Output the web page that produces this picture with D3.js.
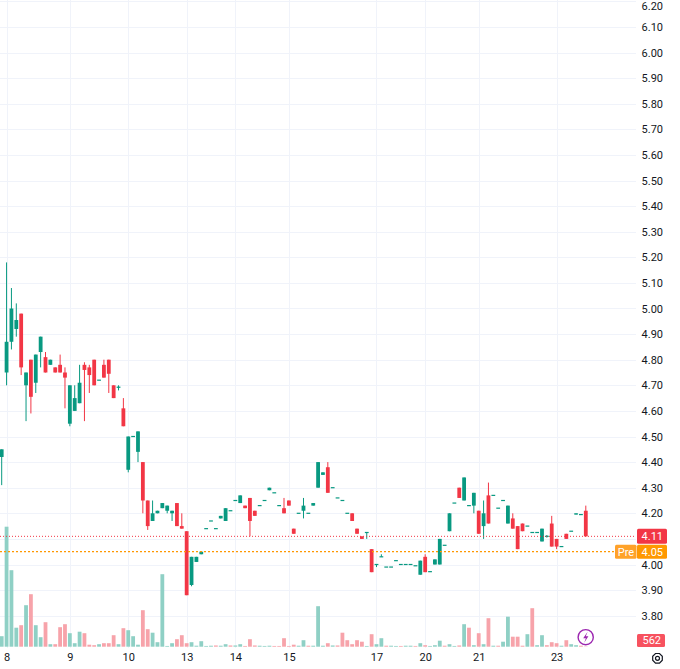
<!DOCTYPE html>
<html><head><meta charset="utf-8">
<script src="https://cdn.jsdelivr.net/npm/d3@7"></script>
<style>html,body{margin:0;padding:0;background:#fff;} svg{display:block;font-family:Roboto,"Liberation Sans",sans-serif;}</style>
</head><body><svg id="c" width="680" height="669"></svg>
<script>
// ---- data ----
const open = [
4.42,4.75,4.87,4.92,4.98,4.70,4.80,4.71,4.83,4.81,
4.78,4.77,4.78,4.75,4.55,4.60,4.63,4.78,4.77,4.80,
4.72,4.78,4.80,4.70,4.69,4.61,4.37,4.50,4.44,4.40,
4.25,4.17,4.20,4.22,4.21,4.20,4.24,4.15,4.13,3.92,
4.01,4.04,4.14,4.17,4.14,4.18,4.17,4.21,4.25,4.24,
4.23,4.26,4.21,4.23,4.25,4.29,4.28,4.23,4.22,4.25,
4.14,4.20,4.21,4.20,4.23,4.30,4.35,4.38,4.30,4.26,
4.25,4.20,4.20,4.14,4.11,4.125,4.06,4.00,4.03,3.99,
3.99,4.015,4.00,4.00,4.00,3.995,3.96,4.03,3.972,4.00,
4.00,4.075,4.13,4.24,4.30,4.25,4.23,4.23,4.21,4.15,
4.27,4.27,4.22,4.25,4.16,4.18,4.15,4.16,4.15,4.125,
4.125,4.09,4.11,4.16,4.10,4.07,4.12,4.13,4.195,4.195,
4.21];
const close = [
4.45,4.87,5.00,4.955,4.77,4.75,4.655,4.82,4.89,4.75,
4.80,4.75,4.75,4.73,4.70,4.65,4.71,4.76,4.74,4.70,
4.72,4.73,4.745,4.65,4.695,4.54,4.50,4.50,4.52,4.25,
4.15,4.20,4.21,4.24,4.23,4.21,4.15,4.14,3.88,4.03,
4.03,4.05,4.14,4.17,4.14,4.19,4.22,4.21,4.25,4.27,
4.22,4.17,4.19,4.23,4.25,4.30,4.28,4.23,4.20,4.23,
4.12,4.20,4.23,4.20,4.24,4.40,4.36,4.28,4.30,4.26,
4.25,4.20,4.17,4.12,4.10,4.125,3.97,4.00,4.03,3.99,
3.99,4.015,4.00,4.00,4.00,3.995,4.015,3.97,3.972,4.02,
4.10,4.075,4.20,4.24,4.26,4.34,4.23,4.28,4.12,4.20,
4.16,4.27,4.22,4.25,4.23,4.14,4.06,4.13,4.15,4.125,
4.125,4.14,4.11,4.07,4.07,4.07,4.10,4.13,4.20,4.195,
4.11];
const high = [
4.45,5.18,5.08,5.02,4.98,4.75,4.80,4.82,4.89,4.83,
4.80,4.77,4.82,4.77,4.70,4.70,4.78,4.79,4.78,4.80,
4.72,4.80,4.80,4.70,4.70,4.65,4.50,4.50,4.52,4.40,
4.25,4.25,4.21,4.24,4.23,4.21,4.24,4.20,4.13,4.03,
4.03,4.05,4.14,4.17,4.14,4.19,4.22,4.21,4.25,4.27,
4.23,4.26,4.21,4.23,4.25,4.30,4.28,4.23,4.26,4.25,
4.14,4.20,4.26,4.20,4.24,4.40,4.36,4.40,4.30,4.26,
4.25,4.20,4.20,4.14,4.11,4.125,4.06,4.00,4.04,3.99,
3.99,4.015,4.00,4.00,4.00,3.995,4.015,4.04,3.972,4.02,
4.10,4.075,4.20,4.24,4.30,4.34,4.23,4.28,4.21,4.25,
4.32,4.27,4.22,4.25,4.23,4.20,4.15,4.16,4.15,4.125,
4.125,4.14,4.115,4.19,4.10,4.07,4.12,4.13,4.20,4.195,
4.23];
const low = [
4.31,4.70,4.84,4.89,4.74,4.56,4.59,4.67,4.77,4.75,
4.78,4.75,4.75,4.61,4.54,4.60,4.63,4.56,4.67,4.70,
4.72,4.73,4.67,4.65,4.68,4.54,4.36,4.50,4.40,4.20,
4.135,4.17,4.20,4.22,4.20,4.17,4.15,4.14,3.88,3.915,
4.01,4.04,4.14,4.17,4.14,4.18,4.17,4.21,4.25,4.24,
4.22,4.11,4.19,4.23,4.25,4.29,4.28,4.23,4.20,4.23,
4.12,4.20,4.18,4.20,4.23,4.30,4.35,4.28,4.30,4.26,
4.25,4.20,4.17,4.12,4.10,4.10,3.97,3.99,4.03,3.99,
3.99,4.015,4.00,4.00,4.00,3.995,3.96,3.97,3.972,4.00,
4.00,4.075,4.13,4.24,4.26,4.25,4.23,4.20,4.12,4.10,
4.16,4.27,4.22,4.25,4.16,4.14,4.06,4.13,4.15,4.125,
4.125,4.09,4.105,4.07,4.06,4.07,4.10,4.13,4.195,4.195,
4.11];
// volume in thousands of shares
const volume = [
21,240,153,38,43,83,105,43,19,49,
5,5,39,45,27,7,30,27,4,3,
5,7,7,23,5,37,33,21,4,73,
35,28,9,145,1.5,7,15,23,7,9,
2,11,1.5,2,2.5,2,5,2.5,2.5,5,
1.5,15,2.5,2,1.5,2,1.5,1.5,17,1.5,
4,2,13,2,2,81,2,7,2.5,2.5,
28,13,5,13,10,1.5,25,5,17,2,
2,1.5,1.5,2,2,1.5,7,3,1.5,3,
12,2,5,1.5,2.5,45,38,3,27,5,
57,2,2,10,60,20,20,2,25,77,
3,23,3,9,7,2,13,5,3,2,
0.562];
const dayTickIndex = [1,14,26,38,48,59,77,87,98,114];
const dayTickLabels = ["8","9","10","13","14","15","17","20","21","23"];
const priceTicks = [3.8,3.9,4.0,4.1,4.2,4.3,4.4,4.5,4.6,4.7,4.8,4.9,5.0,5.1,5.2,5.3,5.4,5.5,5.6,5.7,5.8,5.9,6.0,6.1,6.2];
const lastPrice = 4.11, prePrice = 4.05, lastVolume = 562;

// ---- drawing ----
const UP="#089981", DN="#F23645", VUP="#8fd0c5", VDN="#f7a3aa", GRID="#f0f3fa", TXT="#131722";
const svg=d3.select("#c");
const N=open.length;
const x=d3.scalePoint().domain(d3.range(N)).range([1.7,585.8]);
const y=d3.scaleLinear().domain([4.0,6.2]).range([564.5,1.3]);
const yv=d3.scaleLinear().domain([0,240]).range([646.7,526.7]);
const paneRight=636, timeTop=648;
const bw=3.8;

// grid
const g=svg.append("g");
g.selectAll("line.h").data(priceTicks).join("line")
 .attr("x1",0).attr("x2",paneRight).attr("y1",d=>Math.round(y(d))+0.5).attr("y2",d=>Math.round(y(d))+0.5)
 .attr("stroke",GRID).attr("stroke-width",1);
g.selectAll("line.v").data(dayTickIndex).join("line")
 .attr("x1",d=>Math.round(x(d))+0.5).attr("x2",d=>Math.round(x(d))+0.5).attr("y1",0).attr("y2",timeTop)
 .attr("stroke",GRID).attr("stroke-width",1);

// volume
const idx=d3.range(N);
const volUp=i=> close[i]>open[i] || (close[i]===open[i] && (i===0 || close[i]>=close[i-1]));
svg.append("g").selectAll("rect").data(idx).join("rect")
 .attr("x",i=>x(i)-bw/2).attr("width",bw)
 .attr("y",i=>yv(volume[i])).attr("height",i=>yv(0)-yv(volume[i]))
 .attr("fill",i=>volUp(i)?VUP:VDN);

// candles
const cg=svg.append("g");
const isUp=i=>close[i]>=open[i];
cg.selectAll("line").data(idx).join("line")
 .attr("x1",i=>x(i)).attr("x2",i=>x(i)).attr("y1",i=>y(high[i])).attr("y2",i=>y(low[i]))
 .attr("stroke",i=>isUp(i)?UP:DN).attr("stroke-width",1);
cg.selectAll("rect").data(idx).join("rect")
 .attr("x",i=>x(i)-bw/2).attr("width",bw)
 .attr("y",i=>Math.min(y(open[i]),y(close[i]))-(Math.abs(y(open[i])-y(close[i]))<1.2?0.6:0))
 .attr("height",i=>Math.max(1.2,Math.abs(y(open[i])-y(close[i]))))
 .attr("fill",i=>isUp(i)?UP:DN);

// price lines
svg.append("line").attr("x1",0).attr("x2",paneRight).attr("y1",y(lastPrice)).attr("y2",y(lastPrice))
 .attr("stroke",DN).attr("stroke-width",1).attr("stroke-dasharray","1,2");
svg.append("line").attr("x1",0).attr("x2",615).attr("y1",y(prePrice)).attr("y2",y(prePrice))
 .attr("stroke","#FF9800").attr("stroke-width",1.3).attr("stroke-dasharray","2,2");

// price axis (labels hidden where the price-line boxes sit)
const labelTicks=priceTicks.filter(d=>Math.abs(d-lastPrice)>0.03 && Math.abs(d-prePrice)>0.03);
const ya=svg.append("g").attr("transform","translate(663,0)")
 .call(d3.axisLeft(y).tickValues(labelTicks).tickFormat(d3.format(".2f")).tickSize(0).tickPadding(0));
ya.select(".domain").remove();
ya.selectAll("text").attr("fill",TXT).style("font-size","11px").style("font-family",'Roboto,"Liberation Sans",sans-serif');
// keep the top label inside the picture
ya.selectAll(".tick").filter(d=>y(d)<6).select("text").attr("y",d=>6-y(d));

// time axis
const xa=svg.append("g").attr("transform",`translate(0,${timeTop})`)
 .call(d3.axisBottom(x).tickValues(dayTickIndex).tickFormat((d,i)=>dayTickLabels[i]).tickSize(0).tickPadding(5));
xa.select(".domain").remove();
xa.selectAll("text").attr("fill",TXT).style("font-size","11px").style("font-family",'Roboto,"Liberation Sans",sans-serif');

// labels on the price scale
function box(x0,w,cy,h,fill,text,tx,anchor){
  svg.append("rect").attr("x",x0).attr("y",cy-h/2).attr("width",w).attr("height",h).attr("fill",fill).attr("rx",1.5);
  svg.append("text").attr("x",tx).attr("y",cy).attr("dy","0.36em").attr("text-anchor",anchor)
   .attr("fill","#fff").style("font-size","11px").text(text);
}
box(637,30,y(lastPrice),15,DN,d3.format(".2f")(lastPrice),663,"end");
box(615,21.5,y(prePrice),14,"#FFA229","Pre",626,"middle");
box(637,30,y(prePrice),14,"#FF9800",d3.format(".2f")(prePrice),663,"end");
box(637,28,640.5,13,"#F7525F",String(lastVolume),661,"end");

// lightning icon
svg.append("circle").attr("cx",585.7).attr("cy",637.2).attr("r",7.6).attr("fill","#fff").attr("stroke","#9C27B0").attr("stroke-width",1.4);
svg.append("path").attr("d","M587.6,631.8 L583.2,638.2 L585.9,638.2 L584.2,642.8 L588.4,636.2 L585.8,636.2 Z").attr("fill","#9C27B0");

// settings gear
const gear=d3.range(8).map(k=>{const a=k*Math.PI/4+Math.PI/8;return [657.5+5.2*Math.cos(a),658.3+5.2*Math.sin(a)];});
svg.append("polygon").attr("points",gear.map(p=>p.join(",")).join(" ")).attr("fill","none").attr("stroke",TXT).attr("stroke-width",1.2);
svg.append("circle").attr("cx",657.5).attr("cy",658.3).attr("r",2).attr("fill","none").attr("stroke",TXT).attr("stroke-width",1.2);
</script></body></html>
